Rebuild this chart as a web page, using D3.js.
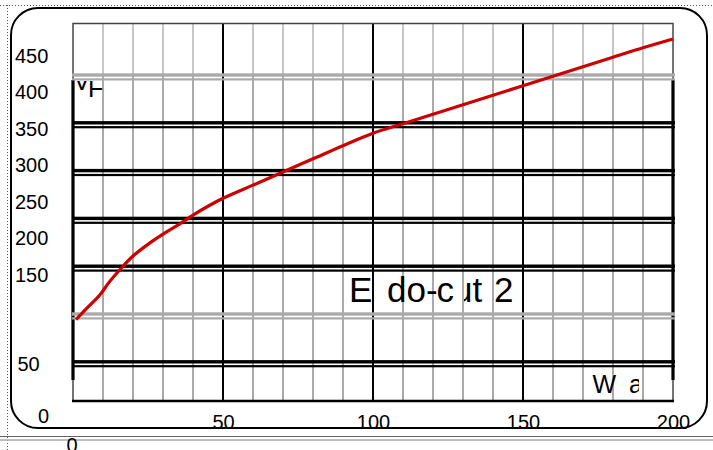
<!DOCTYPE html>
<html>
<head>
<meta charset="utf-8">
<script src="https://cdn.jsdelivr.net/npm/d3@7"></script>
<style>
  body { margin: 0; background: #fff; }
  svg { display: block; font-family: "Liberation Sans", Arial, sans-serif; }
</style>
</head>
<body>
<svg id="chart" width="713" height="450"></svg>
<script>
// dane krzywej
const xVals = [1, 4, 9, 12, 16, 20, 26, 30, 36, 40, 50, 60, 70, 80, 90, 100, 110, 120, 130, 140, 150, 160, 170, 180, 190, 200];
const yVals = [88, 101, 122, 139, 158, 175, 194, 205, 220, 231, 254, 272, 290, 308, 326, 343, 356, 369, 382, 395, 408, 421, 434, 447, 460, 472];

// etykiety osi
const xTickLabels = [0, 50, 100, 150, 200];
const yTickLabels = [450, 400, 350, 300, 250, 200, 150, 50, 0];
const gridRows = [0, 1, 2, 3, 4, 5, 6];

const svg = d3.select("#chart");

const x = d3.scaleLinear().domain([0, 200]).range([73, 673]);
const y = d3.scaleLinear().domain([0, 450]).range([384, 55]);
const yGrid = d3.scaleLinear().domain([0, 6]).range([75, 361.8]);

const TOP = 23.5, BOTTOM = 401;

// ramka zewnętrzna i linie kropkowane
svg.append("line").attr("x1", 0).attr("x2", 713).attr("y1", 5.5).attr("y2", 5.5)
  .attr("stroke", "#555").attr("stroke-dasharray", "1,2");
svg.append("line").attr("x1", 7.5).attr("x2", 7.5).attr("y1", 5).attr("y2", 450)
  .attr("stroke", "#555").attr("stroke-dasharray", "1,2");
svg.append("line").attr("x1", 0).attr("x2", 713).attr("y1", 436.5).attr("y2", 436.5)
  .attr("stroke", "#666").attr("stroke-width", 1);
svg.append("line").attr("x1", 0).attr("x2", 713).attr("y1", 440).attr("y2", 440)
  .attr("stroke", "#aaa").attr("stroke-width", 1.5);

svg.append("rect")
  .attr("x", 11).attr("y", 8).attr("width", 696).attr("height", 420)
  .attr("rx", 27).attr("ry", 27)
  .attr("fill", "#fff").attr("stroke", "#000").attr("stroke-width", 2);

// ########## SIATKA ##########
const minor = d3.range(0, 201, 10).filter(d => d % 50 !== 0);
const grid = svg.append("g");

grid.selectAll("line.minor-top")
  .data(minor).enter().append("line")
  .attr("x1", d => x(d)).attr("x2", d => x(d))
  .attr("y1", TOP).attr("y2", yGrid(0))
  .attr("stroke", "#c6c6c6").attr("stroke-width", 2);

grid.selectAll("line.minor")
  .data(minor).enter().append("line")
  .attr("x1", d => x(d)).attr("x2", d => x(d))
  .attr("y1", yGrid(0)).attr("y2", BOTTOM)
  .attr("stroke", "#aaa").attr("stroke-width", 2);

grid.selectAll("line.major")
  .data([50, 100, 150]).enter().append("line")
  .attr("x1", d => x(d)).attr("x2", d => x(d))
  .attr("y1", TOP).attr("y2", BOTTOM)
  .attr("stroke", "#000").attr("stroke-width", 2);

// ramka wykresu
grid.append("rect")
  .attr("x", x(0)).attr("y", TOP).attr("width", x(200) - x(0)).attr("height", BOTTOM - TOP)
  .attr("fill", "none").attr("stroke", "#444").attr("stroke-width", 1.5);
grid.append("line").attr("x1", x(0) - 1).attr("x2", x(200) + 1).attr("y1", BOTTOM).attr("y2", BOTTOM)
  .attr("stroke", "#000").attr("stroke-width", 2.5);
grid.selectAll("line.side")
  .data([0, 200]).enter().append("line")
  .attr("x1", d => x(d)).attr("x2", d => x(d))
  .attr("y1", 80).attr("y2", 380)
  .attr("stroke", "#000").attr("stroke-width", 3.2);

// podwójne linie poziome
const rows = grid.selectAll("g.row")
  .data(gridRows).enter().append("g")
  .attr("transform", d => `translate(0,${yGrid(d)})`);
rows.append("rect")
  .attr("x", 72).attr("width", 603)
  .attr("y", -1.7).attr("height", 3.4)
  .attr("fill", d => (d === 0 || d === 5) ? "#aaa" : "#000");
rows.append("rect")
  .attr("x", 72).attr("width", 603)
  .attr("y", 3.3).attr("height", 2.2)
  .attr("fill", d => (d === 0 || d === 5) ? "#aaa" : "#000");

// ########## TEKSTY W POLU ##########
const defs = svg.append("defs");
defs.append("clipPath").attr("id", "clipTop")
  .append("rect").attr("x", 70).attr("y", 81).attr("width", 40).attr("height", 20);
defs.append("clipPath").attr("id", "clipU")
  .append("rect").attr("x", 464).attr("y", 260).attr("width", 30).attr("height", 50);
defs.append("clipPath").attr("id", "clipA")
  .append("rect").attr("x", 620).attr("y", 360).attr("width", 19).attr("height", 40);

const tTop = svg.append("g").attr("clip-path", "url(#clipTop)")
  .style("font-size", "25px");
tTop.append("text").attr("x", 73.5).attr("y", 89.5).text("V");
tTop.append("text").attr("x", 88).attr("y", 97).text("F");

const big = svg.append("g").style("font-size", "35px");
big.append("text").attr("x", 349).attr("y", 302).text("E");
big.append("text").attr("x", 387).attr("y", 302).text("do-");
big.append("text").attr("x", 436.5).attr("y", 302).text("c");
big.append("text").attr("x", 453).attr("y", 302).attr("clip-path", "url(#clipU)").text("ut");
big.append("text").attr("x", 494).attr("y", 302).text("2");

const small = svg.append("g").style("font-size", "25px");
small.append("text").attr("x", 592.5).attr("y", 393).text("W");
small.append("text").attr("x", 629).attr("y", 393).attr("clip-path", "url(#clipA)").text("a");

// ########## KRZYWA ##########
const line = d3.line()
  .x((d, i) => x(xVals[i]))
  .y(d => y(d))
  .curve(d3.curveCatmullRom.alpha(0.5));

svg.append("path")
  .datum(yVals)
  .attr("d", line)
  .attr("fill", "none")
  .attr("stroke", "#cc0000")
  .attr("stroke-width", 3.2)
  .attr("stroke-linejoin", "round");

// ########## ETYKIETY OSI ##########
const labels = svg.append("g").style("font-size", "20px").attr("fill", "#000");

labels.selectAll("text.y")
  .data(yTickLabels).enter().append("text")
  .attr("x", d => d === 0 ? 38 : d === 50 ? 17.5 : 15)
  .attr("y", d => y(d) + 7.5 + (d === 50 ? 16 : d === 0 ? 31.5 : 0))
  .text(d => d);

labels.selectAll("text.x")
  .data(xTickLabels).enter().append("text")
  .attr("x", d => x(d) + (d === 0 ? -1 : 0.5))
  .attr("y", d => d === 0 ? 451.5 : 428.5)
  .attr("text-anchor", "middle")
  .text(d => d);
</script>
</body>
</html>
